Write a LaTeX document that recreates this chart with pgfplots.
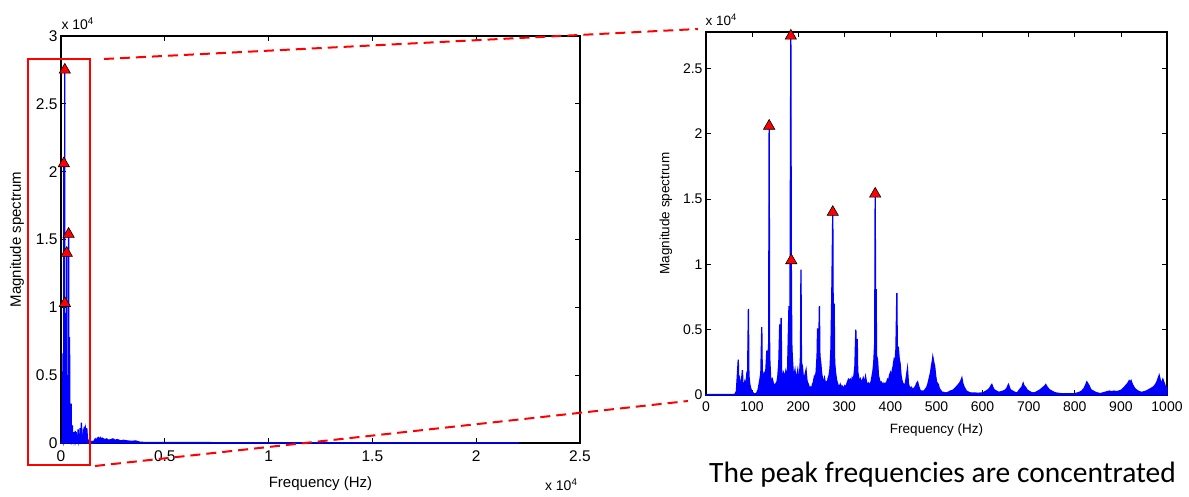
\documentclass[border=0pt]{standalone}
\usepackage{pgfplots}
\usepackage{pgfplotstable}
\pgfplotsset{compat=1.18}
\usepackage{fontspec}
\setmainfont{Liberation Sans}
\newfontfamily\calibri{Carlito}

% magnitude spectrum 0-1000 Hz
\pgfplotstableread[row sep=\\]{
f m\\
0 30\\ 20 40\\ 40 30\\ 60 40\\ 63 60\\ 66 300\\ 68 1500\\ 70 2700\\ 71 800\\ 73 1200\\ 75 700\\ 77 1100\\ 79 1900\\ 80 900\\ 82 600\\ 84 1000\\ 86 700\\ 88 1400\\ 90 900\\ 92 6600\\ 93 1500\\ 95 800\\ 97 500\\ 99 300\\ 101 200\\ 104 100\\ 107 80\\ 110 150\\ 113 400\\ 115 800\\ 117 1200\\ 119 1700\\ 121 5200\\ 122 1500\\ 124 1400\\ 126 1700\\ 128 1600\\ 130 2000\\ 132 3400\\ 134 2500\\ 136 4000\\ 137 20600\\ 138 3000\\ 140 1400\\ 142 1000\\ 144 1200\\ 146 900\\ 148 800\\ 150 700\\ 152 900\\ 154 1000\\ 156 1500\\ 158 2500\\ 160 5400\\ 161 2000\\ 163 5900\\ 164 1800\\ 166 1300\\ 168 1700\\ 170 1500\\ 172 1600\\ 173 1800\\ 175 1400\\ 177 2000\\ 178 3500\\ 180 6800\\ 182 4000\\ 184 27500\\ 185 10300\\ 186 4000\\ 187 3000\\ 189 1800\\ 191 1500\\ 193 1900\\ 195 1200\\ 197 1500\\ 199 1900\\ 201 1200\\ 203 1500\\ 205 3000\\ 206 9600\\ 207 2500\\ 209 2200\\ 211 1400\\ 213 1200\\ 215 1600\\ 217 1900\\ 219 1100\\ 221 900\\ 223 700\\ 225 500\\ 227 600\\ 229 500\\ 231 800\\ 233 1000\\ 235 1400\\ 237 1200\\ 239 1800\\ 241 3000\\ 242 5100\\ 244 2500\\ 246 6800\\ 247 3000\\ 249 2400\\ 251 1600\\ 253 1200\\ 255 1000\\ 257 1300\\ 259 900\\ 261 1000\\ 263 900\\ 265 1300\\ 267 1500\\ 269 2000\\ 271 3500\\ 273 8000\\ 275 14000\\ 276 5000\\ 278 7000\\ 279 2500\\ 281 1700\\ 283 1200\\ 285 900\\ 287 700\\ 289 600\\ 291 800\\ 293 500\\ 295 700\\ 297 600\\ 299 500\\ 301 700\\ 303 600\\ 305 800\\ 307 1000\\ 309 1200\\ 311 1100\\ 313 1200\\ 315 900\\ 317 1300\\ 319 1100\\ 321 1500\\ 323 2200\\ 325 5000\\ 326 2000\\ 328 4300\\ 329 1800\\ 331 1400\\ 333 1000\\ 335 1200\\ 337 900\\ 339 1100\\ 341 1300\\ 343 1000\\ 345 1200\\ 346 1400\\ 348 1000\\ 350 800\\ 352 900\\ 354 700\\ 356 900\\ 358 1000\\ 360 1400\\ 362 1800\\ 364 2500\\ 366 4000\\ 367 15400\\ 368 5000\\ 369 8100\\ 370 3000\\ 372 2700\\ 374 1500\\ 376 1200\\ 378 900\\ 380 1000\\ 382 900\\ 384 700\\ 386 900\\ 388 800\\ 390 900\\ 392 1000\\ 394 1200\\ 396 1100\\ 398 1500\\ 400 1700\\ 402 1300\\ 404 1900\\ 406 2200\\ 408 2700\\ 410 2500\\ 412 3500\\ 414 7800\\ 415 3000\\ 417 3700\\ 419 2800\\ 421 2400\\ 423 1500\\ 425 1100\\ 427 900\\ 429 800\\ 431 700\\ 433 1000\\ 435 1500\\ 437 2000\\ 439 900\\ 441 600\\ 443 500\\ 445 600\\ 447 500\\ 449 400\\ 451 500\\ 453 600\\ 455 700\\ 457 900\\ 459 1000\\ 461 700\\ 463 500\\ 465 300\\ 467 300\\ 469 300\\ 471 300\\ 473 300\\ 475 400\\ 477 500\\ 479 600\\ 481 800\\ 483 1100\\ 485 1400\\ 487 1700\\ 489 2200\\ 491 2600\\ 492 2900\\ 494 2500\\ 496 2200\\ 498 1500\\ 500 1000\\ 502 900\\ 504 800\\ 506 500\\ 508 400\\ 510 300\\ 512 200\\ 515 200\\ 520 150\\ 525 200\\ 530 300\\ 535 350\\ 540 500\\ 545 700\\ 550 900\\ 553 1100\\ 555 1300\\ 557 900\\ 560 600\\ 565 300\\ 570 200\\ 575 150\\ 580 150\\ 585 150\\ 590 120\\ 595 150\\ 600 150\\ 605 250\\ 610 350\\ 615 500\\ 618 700\\ 620 800\\ 622 600\\ 625 400\\ 630 300\\ 635 200\\ 640 250\\ 645 300\\ 650 400\\ 653 550\\ 656 800\\ 658 600\\ 660 400\\ 665 300\\ 670 200\\ 675 150\\ 680 400\\ 685 600\\ 688 900\\ 690 700\\ 693 600\\ 696 400\\ 700 300\\ 705 200\\ 710 150\\ 715 200\\ 720 300\\ 725 400\\ 730 550\\ 735 700\\ 737 800\\ 740 600\\ 745 400\\ 750 300\\ 755 200\\ 760 150\\ 770 100\\ 780 100\\ 790 100\\ 800 100\\ 805 150\\ 810 200\\ 815 300\\ 820 500\\ 824 800\\ 826 1000\\ 828 900\\ 831 700\\ 835 400\\ 840 300\\ 845 200\\ 850 150\\ 855 100\\ 860 150\\ 865 200\\ 870 250\\ 875 300\\ 880 250\\ 885 300\\ 890 250\\ 895 300\\ 900 350\\ 905 500\\ 910 700\\ 915 900\\ 918 1100\\ 920 1000\\ 922 1100\\ 925 800\\ 930 500\\ 935 350\\ 940 250\\ 945 200\\ 950 250\\ 955 300\\ 960 400\\ 965 500\\ 970 600\\ 975 800\\ 978 1000\\ 981 1300\\ 983 1500\\ 985 1200\\ 987 900\\ 989 1000\\ 991 1200\\ 993 1000\\ 996 700\\ 1000 500\\
}\specA

% magnitude spectrum above 1000 Hz
\pgfplotstableread[row sep=\\]{
f m\\
1000 500\\ 1030 300\\ 1060 700\\ 1090 400\\ 1120 1200\\ 1150 500\\ 1180 1000\\ 1210 600\\ 1240 1100\\ 1270 400\\ 1300 200\\ 1400 150\\ 1500 100\\ 1600 150\\ 1650 300\\ 1700 200\\ 1750 350\\ 1800 400\\ 1850 250\\ 1900 400\\ 1950 300\\ 2000 350\\ 2100 250\\ 2200 300\\ 2300 200\\ 2400 250\\ 2500 300\\ 2600 200\\ 2700 250\\ 2800 200\\ 2900 150\\ 3000 200\\ 3200 150\\ 3400 120\\ 3600 150\\ 3700 100\\ 3800 60\\ 4000 40\\ 5000 30\\ 10000 20\\ 15000 20\\ 22050 20\\
}\specB

% detected peaks
\pgfplotstableread[row sep=\\]{
f m\\
137 20600\\ 184 27500\\ 185 10300\\ 275 14000\\ 367 15400\\
}\peaks

\pgfplotsset{
  mstyle/.style={
    scale only axis, clip=false,
    axis line style={black, line width=1.2pt},
    tick style={black, line width=0.7pt},
    tick align=inside, major tick length=5pt,
    scaled ticks=false,
    /pgf/number format/assume math mode=true,
    /pgf/number format/1000 sep={},
  },
  spec/.style={blue, fill=blue, line width=1.3pt},
  pk/.style={only marks, mark=triangle*, mark size=6.5pt,
    mark options={fill=red, draw=black, line width=0.6pt}},
}

\begin{document}
\begin{tikzpicture}
\useasboundingbox (0pt,0pt) rectangle (1189pt,497pt);

% left: full spectrum
\begin{axis}[mstyle,
  at={(61pt,54pt)}, anchor=origin,
  width=519pt, height=407pt,
  xmin=0, xmax=25000, ymin=0, ymax=30000,
  xtick={0,5000,10000,15000,20000,25000},
  xticklabels={0,0.5,1,1.5,2,2.5},
  ytick={0,5000,10000,15000,20000,25000,30000},
  yticklabels={0,0.5,1,1.5,2,2.5,3},
  ticklabel style={font=\fontsize{15.5}{17}\selectfont},
  xticklabel style={yshift=-4pt},
  xlabel={Frequency (Hz)}, ylabel={Magnitude spectrum},
  label style={font=\fontsize{15}{17}\selectfont},
  xlabel style={yshift=-8pt},
  ylabel style={yshift=5pt},
]
\addplot[spec] table[x=f,y=m]{\specA} \closedcycle;
\addplot[spec] table[x=f,y=m]{\specB} \closedcycle;
\addplot[pk] table[x=f,y=m]{\peaks};
\end{axis}

% right: 0-1000 Hz zoom
\begin{axis}[mstyle,
  at={(706pt,102pt)}, anchor=origin,
  width=461pt, height=363pt,
  xmin=0, xmax=1000, ymin=0, ymax=27800,
  xtick={0,100,...,1000},
  ytick={0,5000,10000,15000,20000,25000},
  yticklabels={0,0.5,1,1.5,2,2.5},
  ticklabel style={font=\fontsize{14}{15}\selectfont},
  xticklabel style={yshift=-3pt},
  xlabel={Frequency (Hz)}, ylabel={Magnitude spectrum},
  label style={font=\fontsize{13.5}{15}\selectfont},
  xlabel style={yshift=-5pt},
  ylabel style={yshift=4pt},
]
\addplot[spec] table[x=f,y=m]{\specA} \closedcycle;
\addplot[pk] table[x=f,y=m]{\peaks};
\end{axis}

% exponent labels
\node[anchor=west, font=\fontsize{14}{16}\selectfont] at (58pt,473pt) {x 10\textsuperscript{4}};
\node[anchor=east, font=\fontsize{14}{16}\selectfont] at (581pt,12pt) {x 10\textsuperscript{4}};
\node[anchor=west, font=\fontsize{13.5}{15}\selectfont] at (702pt,477pt) {x 10\textsuperscript{4}};

% zoom annotation
\draw[red, line width=2pt] (28pt,438pt) rectangle (90pt,32pt);
\draw[red, line width=2pt, dash pattern=on 10pt off 6pt] (104pt,438pt) -- (698pt,468pt);
\draw[red, line width=2pt, dash pattern=on 10pt off 6pt] (95pt,31pt) -- (688pt,96pt);

\node[anchor=base west, font=\calibri\fontsize{29.5}{32}\selectfont, inner sep=0pt] at (709pt,14pt) {The peak frequencies are concentrated};
\end{tikzpicture}
\end{document}
